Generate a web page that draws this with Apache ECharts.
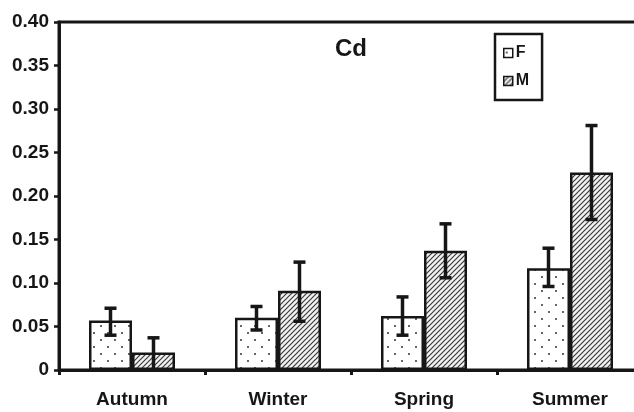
<!DOCTYPE html>
<html>
<head>
<meta charset="utf-8">
<script src="https://cdn.jsdelivr.net/npm/echarts@6/dist/echarts.min.js"></script>
<style>
  html, body { margin: 0; padding: 0; background: #fff; overflow: hidden; }
  #chart { width: 648px; height: 412px; }
</style>
</head>
<body>
<div id="chart"></div>
<script>
var seasons = ['Autumn', 'Winter', 'Spring', 'Summer']
var fValues = [0.057, 0.060, 0.062, 0.117]
var fHigh = [0.071, 0.073, 0.084, 0.140]
var fLow = [0.040, 0.046, 0.040, 0.096]
var mValues = [0.020, 0.091, 0.137, 0.227]
var mHigh = [0.037, 0.124, 0.168, 0.281]
var mLow = [0.000, 0.056, 0.106, 0.173]
var yTicks = [0, 0.05, 0.10, 0.15, 0.20, 0.25, 0.30, 0.35, 0.40]

var BAR_W = 43
var INK = '#161616'
var FONT = '"Liberation Sans", Arial, sans-serif'

// dotted fill for F
function dotPattern() {
  var c = document.createElement('canvas')
  c.width = 14
  c.height = 14
  var ctx = c.getContext('2d')
  ctx.fillStyle = '#fff'
  ctx.fillRect(0, 0, 14, 14)
  ctx.fillStyle = '#666'
  ctx.fillRect(2, 3, 2, 2)
  ctx.fillRect(9, 10, 2, 2)
  return c
}

// diagonal hatch for M
function hatchPattern() {
  var c = document.createElement('canvas')
  c.width = 5
  c.height = 5
  var ctx = c.getContext('2d')
  ctx.fillStyle = '#f2f2f2'
  ctx.fillRect(0, 0, 5, 5)
  ctx.strokeStyle = '#3a3a3a'
  ctx.lineWidth = 1.2
  ctx.beginPath()
  ctx.moveTo(-1, 6); ctx.lineTo(6, -1)
  ctx.moveTo(-4, 4); ctx.lineTo(4, -4)
  ctx.moveTo(1, 9); ctx.lineTo(9, 1)
  ctx.stroke()
  return c
}

function errData(low, high) {
  return seasons.map(function(s, i) { return [i, low[i], high[i]] })
}

function errRender(offset) {
  return function(params, api) {
    var lo = api.coord([api.value(0), api.value(1)])
    var hi = api.coord([api.value(0), api.value(2)])
    var x = lo[0] + offset
    var cap = 6
    var st = { stroke: INK, lineWidth: 3.5 }
    return {
      type: 'group',
      children: [
        { type: 'line', shape: { x1: x, y1: hi[1], x2: x, y2: lo[1] }, style: st },
        { type: 'line', shape: { x1: x - cap, y1: hi[1], x2: x + cap, y2: hi[1] }, style: st },
        { type: 'line', shape: { x1: x - cap, y1: lo[1], x2: x + cap, y2: lo[1] }, style: st }
      ]
    }
  }
}

var chart = echarts.init(document.getElementById('chart'))
var fFill = { image: dotPattern(), repeat: 'repeat' }
var mFill = { image: hatchPattern(), repeat: 'repeat' }

chart.setOption({
  animation: false,
  backgroundColor: '#fff',
  title: {
    text: 'Cd',
    left: 346,
    top: 32,
    textAlign: 'center',
    textStyle: { fontFamily: FONT, fontWeight: 'bold', fontSize: 24, color: INK }
  },
  legend: {
    orient: 'vertical',
    left: 495,
    top: 34,
    padding: [11, 13, 11, 8],
    icon: 'rect',
    itemWidth: 9,
    itemHeight: 9,
    itemGap: 12,
    borderColor: INK,
    borderWidth: 2.5,
    data: ['F', 'M'],
    itemStyle: { borderColor: INK, borderWidth: 1.5 },
    textStyle: { fontFamily: FONT, fontWeight: 'bold', fontSize: 16, color: INK, padding: [0, 0, 0, -2] }
  },
  grid: {
    left: 59,
    right: 5,
    top: 22,
    bottom: 42,
    show: true,
    borderColor: INK,
    borderWidth: 3
  },
  xAxis: {
    type: 'category',
    data: seasons,
    axisLine: { lineStyle: { color: INK, width: 3 } },
    axisTick: { show: true, length: 5, lineStyle: { color: INK, width: 3 } },
    axisLabel: { margin: 20, fontFamily: FONT, fontWeight: 'bold', fontSize: 19, color: INK }
  },
  yAxis: {
    type: 'value',
    min: 0,
    max: 0.4,
    interval: 0.05,
    splitLine: { show: false },
    axisLine: { show: true, lineStyle: { color: INK, width: 3 } },
    axisTick: { show: true, length: 5, lineStyle: { color: INK, width: 2.5 } },
    axisLabel: {
      margin: 10,
      fontFamily: FONT,
      fontWeight: 'bold',
      fontSize: 19,
      color: INK,
      formatter: function(v) {
        var t = yTicks.find(function(k) { return Math.abs(k - v) < 1e-9 })
        return t === 0 ? '0' : t.toFixed(2)
      }
    }
  },
  series: [
    {
      name: 'F',
      type: 'bar',
      data: fValues,
      barWidth: BAR_W,
      barGap: '0%',
      itemStyle: { color: fFill, borderColor: INK, borderWidth: 2.5 }
    },
    {
      name: 'M',
      type: 'bar',
      data: mValues,
      barWidth: BAR_W,
      barGap: '0%',
      itemStyle: { color: mFill, borderColor: INK, borderWidth: 2.5 }
    },
    {
      type: 'custom',
      renderItem: errRender(-BAR_W / 2),
      data: errData(fLow, fHigh),
      z: 5
    },
    {
      type: 'custom',
      renderItem: errRender(BAR_W / 2),
      data: errData(mLow, mHigh),
      z: 5
    }
  ]
})
</script>
</body>
</html>
